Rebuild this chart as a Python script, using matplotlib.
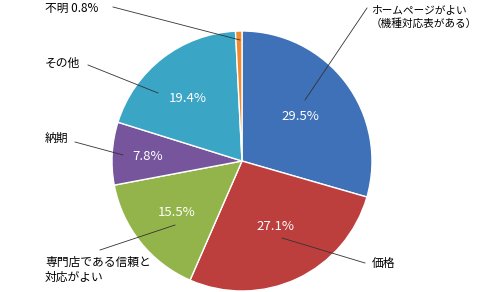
import matplotlib
matplotlib.use("Agg")
import matplotlib.pyplot as plt

plt.rcParams['font.family'] = ['Noto Sans CJK JP', 'DejaVu Sans']

# data (clockwise from 12 o'clock)
labels = ["ホームページがよい\n（機種対応表がある）", "価格", "専門店である信頼と\n対応がよい", "納期", "その他", "不明"]
values = [29.5, 27.1, 15.5, 7.8, 19.4, 0.8]
colors = ["#3E71B7", "#BC3F3D", "#93B44A", "#76559D", "#3BA5C6", "#EF8A2E"]

W, H = 480, 292
fig = plt.figure(figsize=(W / 100, H / 100), dpi=100)
ax = fig.add_axes([0, 0, 1, 1])

cx, cy, r = 242, H - 161, 130
ax.pie(values, colors=colors, startangle=90, counterclock=False,
       center=(cx, cy), radius=r, frame=True,
       wedgeprops=dict(edgecolor="white", linewidth=1.0))
ax.set_xlim(0, W)
ax.set_ylim(0, H)
ax.set_aspect("equal")
ax.axis("off")


def py(y):
    return H - y


# percentage labels inside slices (pixel positions)
pct_pos = [(300, 117), (275, 226), (177, 213), (148, 157), (188, 98)]
for v, (x, y) in zip(values[:5], pct_pos):
    ax.text(x, py(y), f"{v}%", color="white", fontsize=9.5,
            ha="center", va="center")

# leader lines: (start outside, end inside)
lines = [
    ((367, 8), (305, 100)),
    ((365, 263), (282, 238)),
    ((100, 250), (175, 225)),
    ((75, 142), (123, 155)),
    ((88, 65), (158, 93)),
    ((113, 7), (240, 40)),
]
for (x0, y0), (x1, y1) in lines:
    ax.plot([x0, x1], [py(y0), py(y1)], color="#333333", linewidth=0.6)

# outer labels
ax.text(371, py(17), labels[0], fontsize=7.7, ha="left", va="center",
        linespacing=1.35)
ax.text(372, py(263), labels[1], fontsize=8.5, ha="left", va="center")
ax.text(45, py(270), labels[2], fontsize=8.5, ha="left", va="center",
        linespacing=1.25)
ax.text(45, py(138), labels[3], fontsize=8.5, ha="left", va="center")
ax.text(45, py(63), labels[4], fontsize=8.5, ha="left", va="center")
ax.text(45, py(8), f"{labels[5]} {values[5]}%", fontsize=8.5, ha="left",
        va="center")

fig.savefig("out.png", dpi=100)
